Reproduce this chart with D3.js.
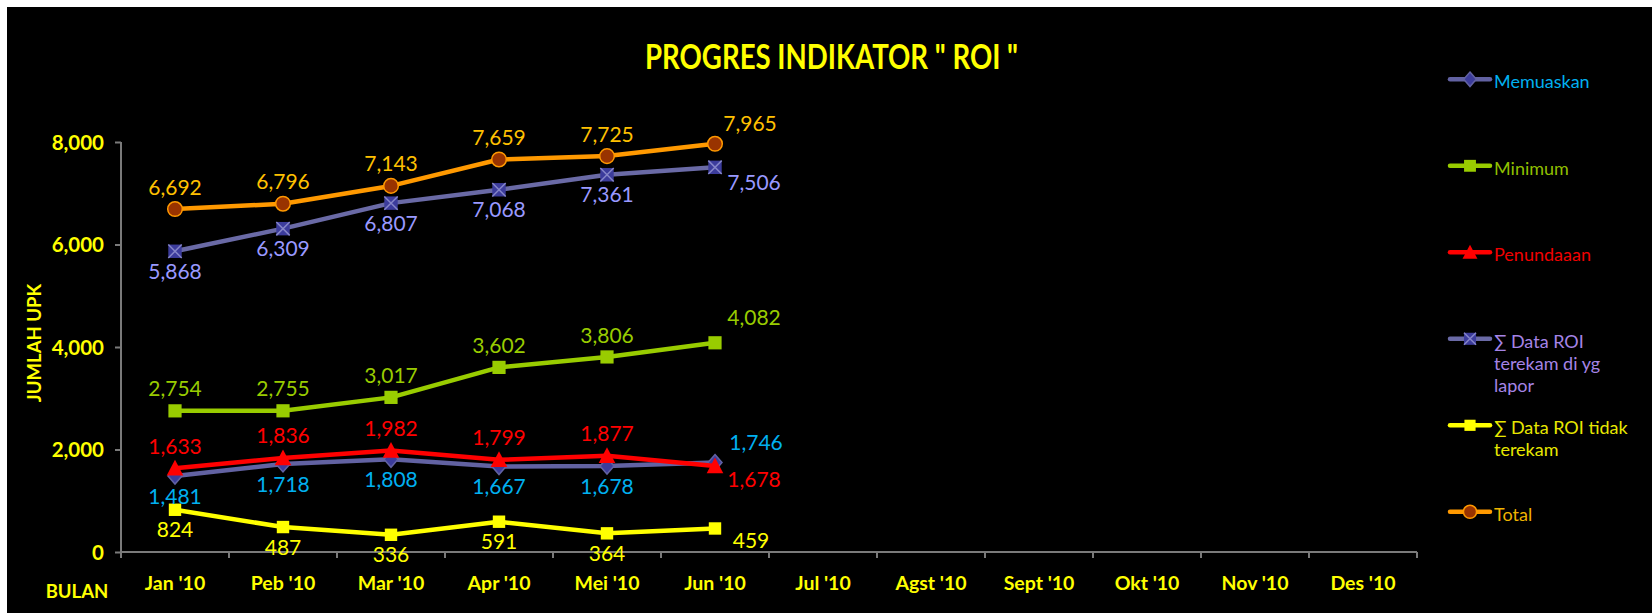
<!DOCTYPE html>
<html>
<head>
<meta charset="utf-8">
<script src="https://cdn.jsdelivr.net/npm/d3@7"></script>
<style>
  html, body { margin: 0; padding: 0; background: #ffffff; }
  svg { display: block; }
  text { font-family: Lato, "Noto Sans", sans-serif; }
</style>
</head>
<body>
<svg id="chart" width="1652" height="613"></svg>
<script>
// ---------------- data ----------------
const months = ["Jan '10", "Peb '10", "Mar '10", "Apr '10", "Mei '10", "Jun '10",
                "Jul '10", "Agst '10", "Sept '10", "Okt '10", "Nov '10", "Des '10"];
const memuaskan    = [1481, 1718, 1808, 1667, 1678, 1746];
const minimum      = [2754, 2755, 3017, 3602, 3806, 4082];
const penundaaan   = [1633, 1836, 1982, 1799, 1877, 1678];
const dataTerekam  = [5868, 6309, 6807, 7068, 7361, 7506];
const tidakTerekam = [824, 487, 336, 591, 364, 459];
const total        = [6692, 6796, 7143, 7659, 7725, 7965];
const yTicks = [0, 2000, 4000, 6000, 8000];
const legendLabels = [
  ["Memuaskan"],
  ["Minimum"],
  ["Penundaaan"],
  ["\u2211 Data ROI", "terekam di yg", "lapor"],
  ["\u2211 Data ROI tidak", "terekam"],
  ["Total"]
];
const titleText = "PROGRES INDIKATOR \" ROI \"";
const yTitle = "JUMLAH UPK";
const xTitle = "BULAN";

// ---------------- styles ----------------
const styles = [
  { values: memuaskan,    line: "#6262A2", marker: "diamond", fill: "#3C3C9C", stroke: "#6262A2",
    label: "#00B0F0", legendColor: "#00B0F0", place: "below", last: [41, -20] },
  { values: minimum,      line: "#99CC00", marker: "square",  fill: "#99CC00", stroke: "#99CC00",
    label: "#99CC00", legendColor: "#8FBF00", place: "above", last: [39, -25] },
  { values: penundaaan,   line: "#FF0000", marker: "triangle", fill: "#FF0000", stroke: "#FF0000",
    label: "#FF0000", legendColor: "#F00000", place: "above", last: [39, 13] },
  { values: dataTerekam,  line: "#6A6AA6", marker: "xsquare", fill: "#3C3C9C", stroke: "#6A6AA6",
    label: "#9999FF", legendColor: "#A584E6", place: "below", last: [39, 15] },
  { values: tidakTerekam, line: "#FFFF00", marker: "square",  fill: "#FFFF00", stroke: "#FFFF00",
    label: "#FFFF00", legendColor: "#E8E800", place: "below", last: [36, 12] },
  { values: total,        line: "#FF9900", marker: "circle",  fill: "#993300", stroke: "#FF9900",
    label: "#FFC000", legendColor: "#F0B400", place: "above", last: [35, -20] }
];

const svg = d3.select("#chart");

// background (white frame top/left, black chart area)
svg.append("rect").attr("x", 0).attr("y", 0).attr("width", 1652).attr("height", 613).attr("fill", "#ffffff");
svg.append("rect").attr("x", 7).attr("y", 7).attr("width", 1645).attr("height", 606).attr("fill", "#000000");

// ---------------- scales ----------------
const x = d3.scaleBand().domain(months).range([121, 1417]).padding(0);
const y = d3.scaleLinear().domain([0, 8000]).range([552, 142]);
const cx = i => x(months[i]) + x.bandwidth() / 2;

// ---------------- axes ----------------
const axisColor = "#7a7a7a";
const yAxis = svg.append("g").attr("transform", "translate(121,0)")
  .call(d3.axisLeft(y).tickValues(yTicks).tickSize(6).tickFormat(d3.format(",")));
yAxis.select(".domain").attr("stroke", axisColor).attr("stroke-width", 2)
  .attr("d", `M0,${y(8000)}V${y(0)}`);
yAxis.selectAll(".tick line").attr("stroke", axisColor).attr("stroke-width", 2);
yAxis.selectAll(".tick text")
  .attr("fill", "#FFFF00").attr("font-family", "Lato, sans-serif").attr("font-weight", "bold")
  .attr("font-size", 20.5).attr("x", -17).attr("dy", "0.36em");

const xAxis = svg.append("g").attr("transform", `translate(0,${y(0)})`)
  .call(d3.axisBottom(x).tickSize(0).tickFormat(d => d));
xAxis.select(".domain").attr("stroke", axisColor).attr("stroke-width", 2)
  .attr("d", `M121,0H1417`);
xAxis.selectAll(".tick text")
  .attr("fill", "#FFFF00").attr("font-family", "Lato, sans-serif").attr("font-weight", "bold")
  .attr("font-size", 19.5).attr("y", 31).attr("dy", "0.36em");
// tick marks on category boundaries
const boundaries = months.map(m => x(m)).concat([x.range()[1]]);
xAxis.selectAll(".bound").data(boundaries).enter().append("line")
  .attr("x1", d => d).attr("x2", d => d).attr("y1", 0).attr("y2", 6)
  .attr("stroke", axisColor).attr("stroke-width", 2);

// axis titles
svg.append("text").text(yTitle)
  .attr("transform", "translate(41,343) rotate(-90)")
  .attr("text-anchor", "middle").attr("fill", "#FFFF00")
  .attr("font-weight", "bold").attr("font-size", 18.5);
svg.append("text").text(xTitle)
  .attr("x", 77).attr("y", 598).attr("text-anchor", "middle")
  .attr("fill", "#FFFF00").attr("font-weight", "bold").attr("font-size", 18.5);

// title
svg.append("text").text(titleText)
  .attr("x", 831.5).attr("y", 68.5).attr("text-anchor", "middle")
  .attr("fill", "#FFFF00").attr("font-weight", "bold").attr("font-size", 33.5)
  .attr("textLength", 373).attr("lengthAdjust", "spacingAndGlyphs");

// ---------------- markers ----------------
function drawMarker(g, type, px, py, st, k) {
  k = k || 1;
  if (type === "diamond") {
    g.append("path").attr("d", `M${px},${py - 8 * k}L${px + 7 * k},${py}L${px},${py + 8 * k}L${px - 7 * k},${py}Z`)
      .attr("fill", st.fill).attr("stroke", st.stroke).attr("stroke-width", 1.5);
  } else if (type === "square") {
    const h = (st.values === tidakTerekam ? 6.2 : 6.6) * k;
    g.append("rect").attr("x", px - h).attr("y", py - h).attr("width", 2 * h).attr("height", 2 * h)
      .attr("fill", st.fill);
  } else if (type === "triangle") {
    g.append("path").attr("d", `M${px},${py - 8.5 * k}L${px + 8.3 * k},${py + 7.3 * k}L${px - 8.3 * k},${py + 7.3 * k}Z`)
      .attr("fill", st.fill);
  } else if (type === "xsquare") {
    const h = 6.7 * k;
    g.append("rect").attr("x", px - h).attr("y", py - h).attr("width", 2 * h).attr("height", 2 * h)
      .attr("fill", st.fill);
    g.append("path").attr("d", `M${px - h},${py - h}L${px + h},${py + h}M${px + h},${py - h}L${px - h},${py + h}`)
      .attr("stroke", "#8585C8").attr("stroke-width", 1.5);
  } else if (type === "circle") {
    g.append("circle").attr("cx", px).attr("cy", py).attr("r", 7.3 * k)
      .attr("fill", st.fill).attr("stroke", st.stroke).attr("stroke-width", 1.5);
  }
}

// ---------------- series ----------------
const lineGen = d3.line().x((d, i) => cx(i)).y(d => y(d));
styles.forEach(st => {
  const g = svg.append("g");
  g.append("path").datum(st.values).attr("d", lineGen)
    .attr("fill", "none").attr("stroke", st.line).attr("stroke-width", 4.5)
    .attr("stroke-linejoin", "round").attr("stroke-linecap", "round");
  st.values.forEach((v, i) => drawMarker(g, st.marker, cx(i), y(v), st));
});

// data labels (on top)
const labelFmt = d3.format(",");
styles.forEach(st => {
  const n = st.values.length;
  svg.append("g").selectAll("text").data(st.values).enter().append("text")
    .text(d => labelFmt(d))
    .attr("x", (d, i) => cx(i) + (i === n - 1 ? st.last[0] : 0))
    .attr("y", (d, i) => y(d) + (i === n - 1 ? st.last[1] : (st.place === "above" ? -22 : 20)))
    .attr("dy", "0.36em")
    .attr("text-anchor", "middle")
    .attr("fill", st.label).attr("font-size", 21);
});

// ---------------- legend ----------------
const legend = svg.append("g");
styles.forEach((st, k) => {
  const ly = 79.3 + k * 86.5;
  const g = legend.append("g");
  g.append("line").attr("x1", 1450).attr("x2", 1490).attr("y1", ly).attr("y2", ly)
    .attr("stroke", st.line).attr("stroke-width", 4.5).attr("stroke-linecap", "round");
  drawMarker(g, st.marker, 1470, ly, st, 0.9);
  const t = g.append("text").attr("x", 1494).attr("y", ly + 9)
    .attr("fill", st.legendColor).attr("font-size", 18);
  legendLabels[k].forEach((line, j) => {
    t.append("tspan").attr("x", 1494).attr("dy", j === 0 ? 0 : 22).text(line);
  });
});
</script>
</body>
</html>
